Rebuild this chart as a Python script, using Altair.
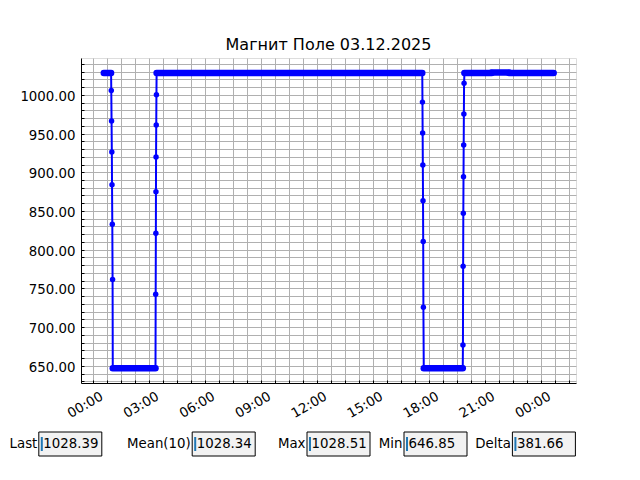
import altair as alt
import pandas as pd

# ---- data (hours since 03.12.2025 00:00, field value) ----
hours = [-0.17, 0.22, 0.23, 0.245, 0.26, 0.27, 0.285, 0.30, 0.31,
         2.60, 2.61, 2.62, 2.625, 2.63, 2.64, 2.65, 2.66,
         16.90, 16.91, 16.92, 16.93, 16.94, 16.95, 16.96, 16.98,
         19.07, 19.08, 19.09, 19.10, 19.11, 19.12, 19.13, 19.14, 19.16,
         23.94]
values = [1028.3, 1028.3, 1005.5, 966.2, 926.3, 883.8, 832.7, 761.6, 646.9,
          647.0, 742.3, 821.2, 874.8, 919.8, 961.0, 1000.0, 1028.2,
          1028.3, 990.6, 950.7, 909.5, 863.2, 810.5, 725.6, 646.9,
          647.0, 677.0, 778.7, 846.9, 894.1, 935.3, 975.2, 1015.1, 1028.3,
          1028.4]

# densely sampled flat stretches (start hour, end hour, level)
band_start = [-0.17, 0.31, 2.66, 16.98, 19.16, 20.62, 21.55]
band_end = [0.22, 2.60, 16.90, 19.07, 20.62, 21.55, 23.94]
band_level = [1028.3, 646.9, 1028.3, 646.9, 1028.3, 1028.9, 1028.3]

info_labels = ["Last", "Mean(10)", "Max", "Min", "Delta"]
info_values = ["1028.39", "1028.34", "1028.51", "\u00a0646.85", "\u00a0381.66"]

title_text = "Магнит Поле 03.12.2025"

x_ticks = [i * 0.75 for i in range(-1, 34)]
y_ticks = list(range(630, 1050, 10))

df = pd.DataFrame({"hours": hours, "value": values})
bands = pd.DataFrame({"start": band_start, "end": band_end, "level": band_level})

FONT = "DejaVu Sans"
xscale = alt.Scale(domain=[-1.393, 25.14], nice=False, zero=False)
yscale = alt.Scale(domain=[627.77, 1047.59], nice=False, zero=False)

xaxis = alt.Axis(
    values=x_ticks, title=None, grid=True, gridColor="#b0b0b0", gridWidth=1,
    labelExpr="(datum.value % 3 === 0) ? (((datum.value % 24) < 10 ? '0' : '') + (datum.value % 24) + ':00') : ''",
    labelAngle=330, labelAlign="right", labelBaseline="top", labelOffset=-9,
    labelPadding=9, labelOverlap=False, labelFlush=False,
    labelFont=FONT, labelFontSize=13.33, labelColor="black",
    tickColor="black", tickSize=alt.ExprRef(expr="-3"), domainColor="black",
)
yaxis = alt.Axis(
    values=y_ticks, title=None, grid=True, gridColor="#b0b0b0", gridWidth=1,
    labelExpr="(datum.value % 50 === 0) ? format(datum.value, '.2f') : ''",
    labelPadding=9, labelOffset=1.5, labelOverlap=False, labelFlush=False,
    labelFont=FONT, labelFontSize=13.33, labelColor="black",
    tickColor="black", tickSize=alt.ExprRef(expr="-3"), domainColor="black",
)

band_layer = alt.Chart(bands).mark_rule(color="#0000ff", strokeWidth=6.5, strokeCap="round").encode(
    x=alt.X("start:Q", scale=xscale, axis=xaxis),
    x2="end:Q",
    y=alt.Y("level:Q", scale=yscale, axis=yaxis),
)
line_layer = alt.Chart(df).mark_line(color="#0000ff", strokeWidth=2).encode(
    x=alt.X("hours:Q", scale=xscale, axis=xaxis),
    y=alt.Y("value:Q", scale=yscale, axis=yaxis),
)
point_layer = alt.Chart(df).mark_point(filled=True, color="#0000ff", size=30, opacity=1).encode(
    x=alt.X("hours:Q", scale=xscale, axis=xaxis),
    y=alt.Y("value:Q", scale=yscale, axis=yaxis),
)

layers = [band_layer, line_layer, point_layer]

# text-box widgets below the plot (plot-area pixel coordinates)
box_left = [-42.2, 111.2, 226.0, 323.0, 431.4]
box_w = 63
box_top, box_bot, text_y = 374, 398, 386
info = pd.DataFrame({"label": info_labels, "value": info_values})
for i, bx in enumerate(box_left):
    row = info.iloc[[i]]
    base = alt.Chart(row)
    layers.append(base.mark_rect(fill="#f2f2f2", stroke="black", strokeWidth=1).encode(
        x=alt.value(bx), x2=alt.value(bx + box_w), y=alt.value(box_top), y2=alt.value(box_bot)))
    layers.append(base.mark_rule(color="#1f77b4", strokeWidth=2).encode(
        x=alt.value(bx + 3), y=alt.value(box_top + 5), y2=alt.value(box_bot - 5)))
    layers.append(base.mark_text(align="right", baseline="middle", font=FONT, fontSize=13.33, color="black").encode(
        x=alt.value(bx - 1.5), y=alt.value(text_y), text="label:N"))
    layers.append(base.mark_text(align="left", baseline="middle", font=FONT, fontSize=13.33, color="black").encode(
        x=alt.value(bx + 4.5), y=alt.value(text_y), text="value:N"))

chart = alt.layer(*layers).properties(
    width=495, height=325,
    title=alt.TitleParams(title_text, font=FONT, fontSize=16, fontWeight="normal", color="black",
                          anchor="middle", offset=5),
    autosize=alt.AutoSizeParams(type="none"),
    padding={"left": 73, "top": 50, "right": 50, "bottom": 78},
).configure_view(stroke="black", strokeWidth=1).configure(background="white")

chart.save("out.html", embed_options={"renderer": "svg", "actions": False})
